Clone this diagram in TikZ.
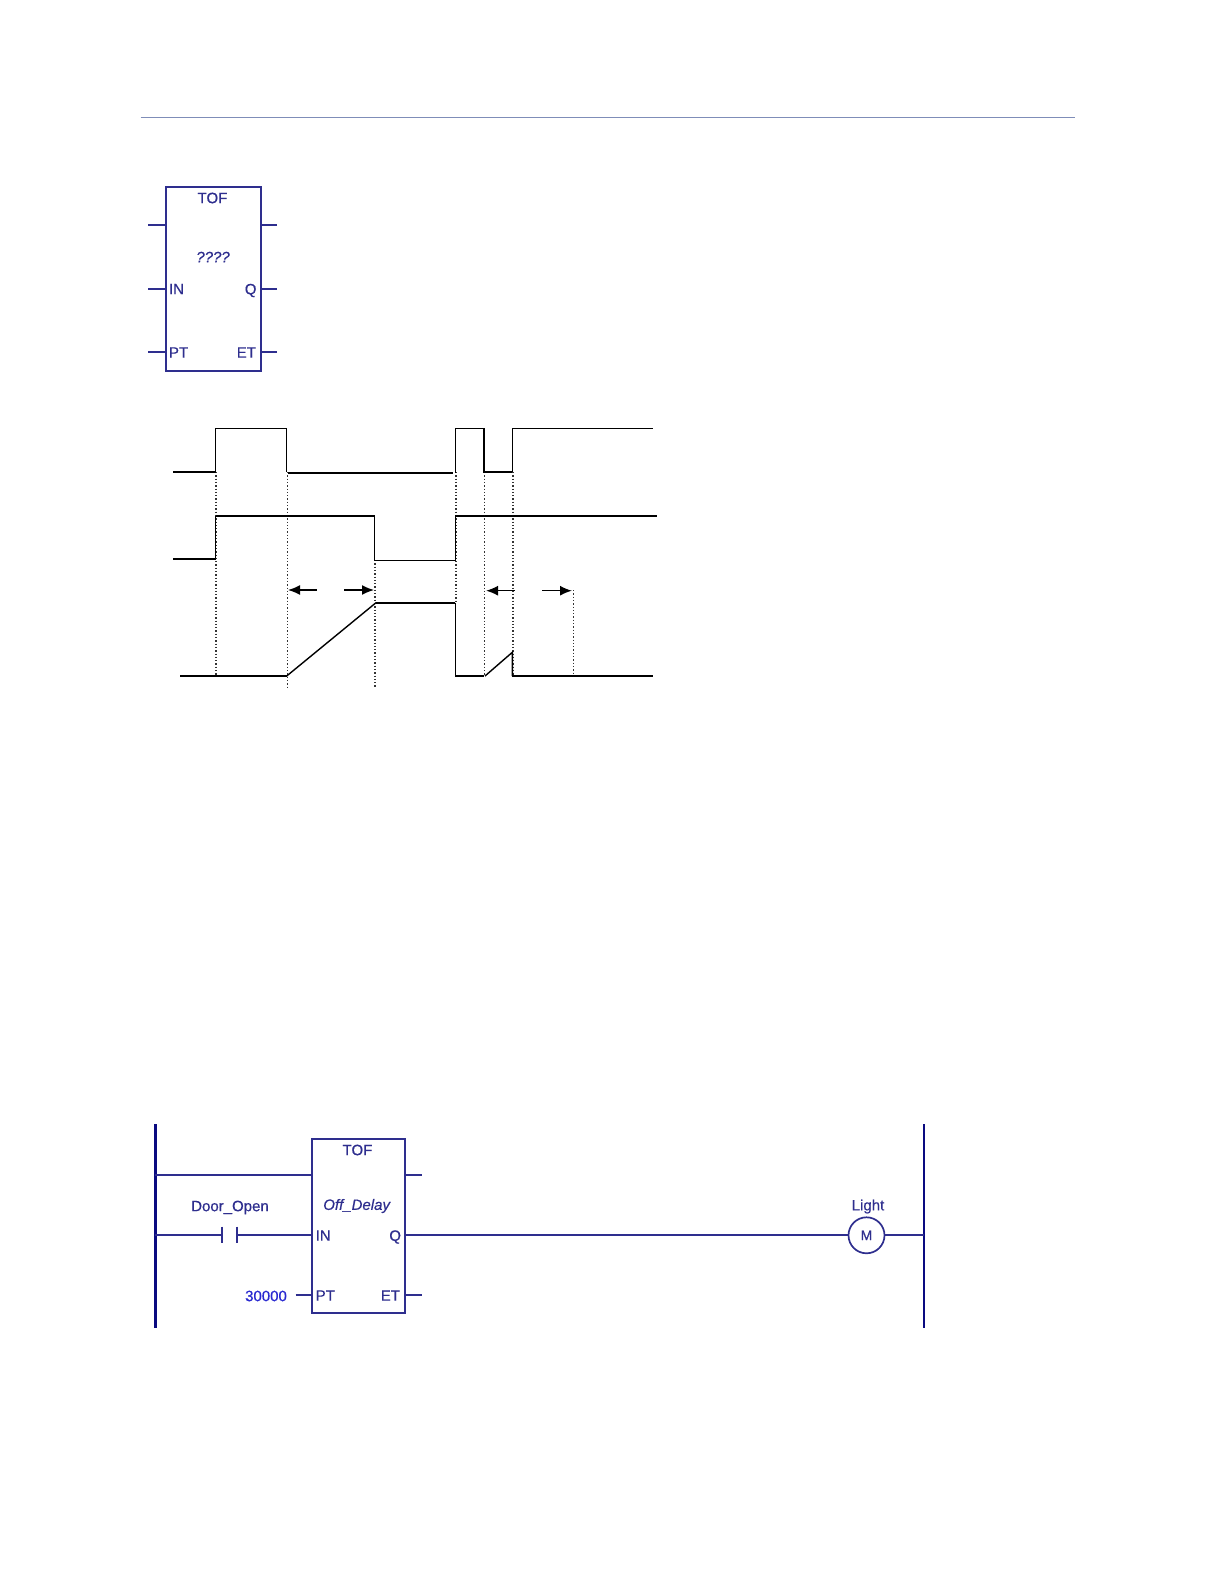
\documentclass[tikz,border=0pt]{standalone}
\usepackage{fontspec}
\setmainfont[RawFeature={embolden=0.5}]{Liberation Sans}
\usetikzlibrary{arrows.meta}
\definecolor{PlcNavy}{HTML}{2E2E8E}
\definecolor{PlcRail}{HTML}{0A0A80}
\definecolor{PlcValue}{HTML}{2A2AD0}
\definecolor{PlcRule}{HTML}{7F8DB8}
\tikzset{
  every node/.style = {font=\fontsize{15}{17}\selectfont, text=PlcNavy, inner sep=0pt, outer sep=0pt},
  tof box/.style = {draw=PlcNavy, fill=white, line width=1.8pt, minimum width=#1},
  pin/.style = {draw=PlcNavy, line width=1.7pt},
  rail/.style = {draw=PlcRail, line width=2.8pt},
  rung/.style = {draw=PlcNavy, line width=1.7pt},
  wave thick/.style = {draw=black, line width=2.2pt, line join=miter},
  wave thin/.style = {draw=black, line width=1.4pt, line join=miter},
  guide/.style = {draw=black!80, line width=1.3pt, dotted},
  span arrow/.style = {-{Latex[length=12pt,width=10pt]}, draw=black, line width=1.5pt},
}
\begin{document}
\begin{tikzpicture}[x=1pt,y=-1pt]
  \useasboundingbox (0,0) rectangle (1224,1584);
  \coordinate (ruleL) at (140.5,118);
  \coordinate (ruleR) at (1075,118);
  \draw[draw=PlcRule, line width=1pt] (ruleL) -- (ruleR);

  % function block
  \node[tof box=94.7pt, minimum height=184.7pt] (tofa) at (213.5,279) {};
  \node (tofaname) at (212.5,198) {TOF};
  \node (tofaaddr) at (213,257) {\textit{????}};
  \node[anchor=west] (tofain) at (169,289) {IN};
  \node[anchor=west] (tofapt) at (169,352.5) {PT};
  \node[anchor=east] (tofaq) at (256.5,290.5) {Q};
  \node[anchor=east] (tofaet) at (256,352.5) {ET};
  \coordinate (tofaL1) at (148,224.7);
  \coordinate (tofaL2) at (148,288.7);
  \coordinate (tofaL3) at (148,352);
  \coordinate (tofaR1) at (277,224.7);
  \coordinate (tofaR2) at (277,288.7);
  \coordinate (tofaR3) at (277,352);
  \draw[pin] (tofaL1) -- (tofaL1-|tofa.west);
  \draw[pin] (tofaL2) -- (tofaL2-|tofa.west);
  \draw[pin] (tofaL3) -- (tofaL3-|tofa.west);
  \draw[pin] (tofaR1) -- (tofaR1-|tofa.east);
  \draw[pin] (tofaR2) -- (tofaR2-|tofa.east);
  \draw[pin] (tofaR3) -- (tofaR3-|tofa.east);

  % timing
  \draw[guide] (215.9,472) -- (215.9,676);
  \draw[guide] (287.2,472) -- (287.2,688);
  \draw[guide] (375,560) -- (375,688);
  \draw[guide] (456,472) -- (456,602);
  \draw[guide] (484.4,472) -- (484.4,676);
  \draw[guide] (513,472) -- (513,676);
  \draw[guide] (573.3,590) -- (573.3,676);

  \draw[wave thick] (173,471.7) -- (215.7,471.7);
  \draw[wave thin] (215.7,471.7) -- (215.7,428.3) -- (286.7,428.3) -- (286.7,471.7);
  \draw[wave thick] (288,472.7) -- (452.7,472.7);
  \draw[wave thin] (455.3,472.7) -- (455.3,428.3) -- (484,428.3);
  \draw[wave thick] (484,428.3) -- (484,471.7) -- (512.3,471.7);
  \draw[wave thin] (512.3,471.7) -- (512.3,428.3) -- (653.3,428.3);

  \draw[wave thin] (173,559) -- (215.7,559) -- (215.7,515.7);
  \draw[wave thick] (215.7,515.7) -- (374.7,515.7);
  \draw[wave thin] (374.7,515.7) -- (374.7,560.3) -- (455.3,560.3) -- (455.3,515.7);
  \draw[wave thick] (455.3,515.7) -- (656.7,515.7);

  \draw[wave thick] (180,676) -- (286.7,676);
  \draw[wave thin] (286.7,676) -- (376,602.7);
  \draw[wave thick] (376,602.7) -- (455.3,602.7);
  \draw[wave thin] (455.3,602.7) -- (455.3,676);
  \draw[wave thick] (455.3,676) -- (484,676);
  \draw[wave thin] (485,676) -- (512.3,652.3) -- (512.3,676);
  \draw[wave thick] (512.3,676) -- (653.3,676);

  \draw[span arrow] (316.7,590) -- (288,590);
  \draw[span arrow] (344,590) -- (374,590);
  \draw[span arrow] (515,590.7) -- (486,590.7);
  \draw[span arrow] (542,590.7) -- (572,590.7);

  % ladder rung
  \coordinate (railLt) at (155.4,1124);
  \coordinate (railLb) at (155.4,1328);
  \coordinate (railRt) at (924,1124);
  \coordinate (railRb) at (924,1328);
  \draw[rail] (railLt) -- (railLb);
  \draw[rail] (railRt) -- (railRb);

  \node[tof box=93pt, minimum height=173.4pt] (tofb) at (358.8,1226) {};
  \node (tofbname) at (357.5,1150) {TOF};
  \node (tofbaddr) at (357,1206) {\textit{Off\_Delay}};
  \node[anchor=west] (tofbin) at (315.7,1235.5) {IN};
  \node[anchor=west] (tofbpt) at (315.7,1295.5) {PT};
  \node[anchor=east] (tofbq) at (401,1237) {Q};
  \node[anchor=east] (tofbet) at (400,1295.5) {ET};

  \node (doorlabel) at (230,1207.5) {Door\_Open};
  \node[text=PlcValue] (ptvalue) at (266,1296) {30000};
  \node[draw=PlcNavy, line width=1.7pt, circle, minimum size=36pt, font=\fontsize{14}{16}\selectfont] (coil) at (866.5,1235.3) {M};
  \node (coillabel) at (868,1206.5) {Light};

  \coordinate (contactL) at (222.3,1235.3);
  \coordinate (contactR) at (237,1235.3);
  \coordinate (contactLt) at (222.3,1226.7);
  \coordinate (contactLb) at (222.3,1243);
  \coordinate (contactRt) at (237,1226.7);
  \coordinate (contactRb) at (237,1243);
  \coordinate (topL) at (155,1175);
  \coordinate (inL) at (155,1235.3);
  \coordinate (outR) at (924,1235.3);
  \coordinate (stubQ) at (421.7,1175);
  \coordinate (stubPT) at (295.7,1295);
  \coordinate (stubET) at (421.7,1295);

  \draw[rung] (topL) -- (topL-|tofb.west);
  \draw[rung] (inL) -- (contactL);
  \draw[rung] (contactR) -- (contactR-|tofb.west);
  \draw[rung] (contactLt) -- (contactLb);
  \draw[rung] (contactRt) -- (contactRb);
  \draw[rung] (stubPT) -- (stubPT-|tofb.west);
  \draw[rung] (stubQ-|tofb.east) -- (stubQ);
  \draw[rung] (stubET-|tofb.east) -- (stubET);
  \draw[rung] (coil.west-|tofb.east) -- (coil.west);
  \draw[rung] (coil.east) -- (outR);
\end{tikzpicture}
\end{document}
